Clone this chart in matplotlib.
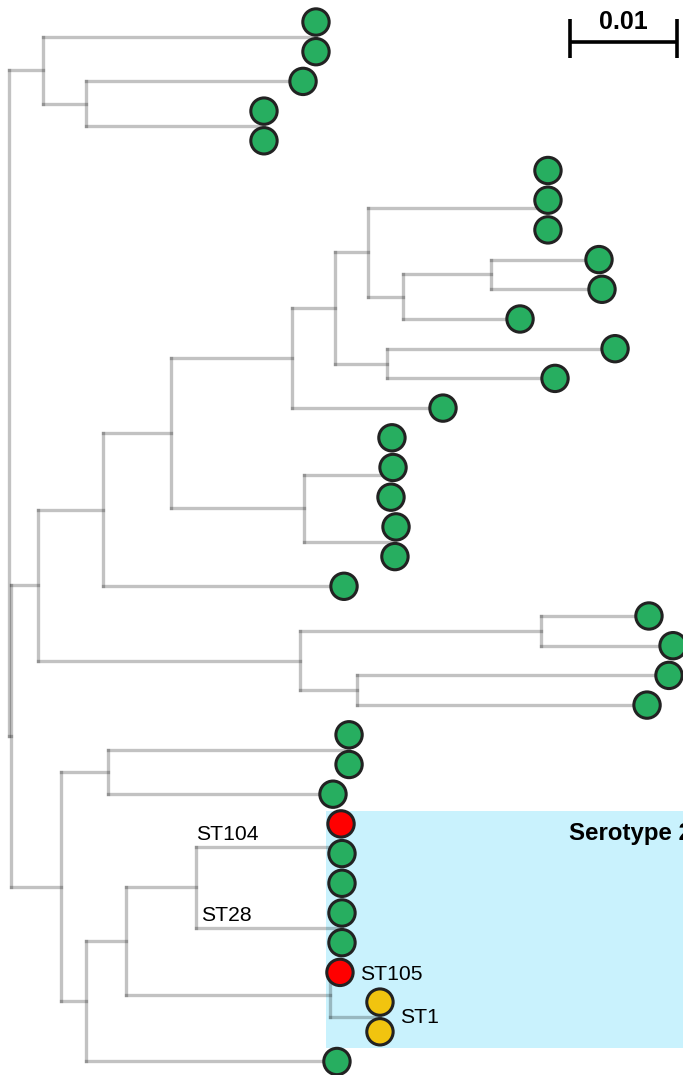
import numpy as np
import matplotlib.pyplot as plt
from matplotlib.collections import LineCollection
from matplotlib.patches import Rectangle

plt.rcParams['font.family'] = ['Liberation Sans', 'DejaVu Sans']

# tree topology: parent of each node (-1 = root) and distance from root (subst./site)
parent = [-1, 0, 1, 1, 3, 3, 0, 6, 7, 8, 9, 10, 11, 12, 12, 14, 15, 15, 14, 11,
          19, 19, 10, 9, 23, 23, 8, 7, 27, 28, 28, 27, 31, 31, 6, 34, 35, 35,
          34, 38, 39, 40, 40, 39, 43, 43, 38]
depth = [0.0, 0.00318, 0.02869, 0.00720, 0.02748, 0.02383, 0.00019, 0.00271,
         0.00879, 0.01514, 0.02645, 0.03047, 0.03355, 0.05037, 0.03682, 0.04505,
         0.05514, 0.05542, 0.04776, 0.03533, 0.05664, 0.05103, 0.04056, 0.02757,
         0.03579, 0.03607, 0.03131, 0.02720, 0.04972, 0.05981, 0.06206, 0.03252,
         0.06168, 0.05963, 0.00486, 0.00925, 0.03178, 0.03028, 0.00720, 0.01093,
         0.01748, 0.03112, 0.03112, 0.03000, 0.03093, 0.03467, 0.03065]
# row where each terminal branch ends
tip_row = {2: 0.5, 4: 2, 5: 3.5, 13: 6.26, 16: 8, 17: 9, 18: 10, 20: 11, 21: 12,
           22: 13, 24: 15.25, 25: 17.5, 26: 19, 29: 20, 30: 21, 32: 22, 33: 23,
           36: 24.5, 37: 26, 41: 27.78, 42: 30.5, 44: 32, 45: 33.5, 46: 35}

# isolates (one circle per row)
iso_row = np.arange(36)
iso_depth = [0.02869, 0.02869, 0.02748, 0.02383, 0.02383, 0.05037, 0.05037, 0.05037,
             0.05514, 0.05542, 0.04776, 0.05664, 0.05103, 0.04056, 0.03579, 0.03589,
             0.03570, 0.03617, 0.03607, 0.03131, 0.05981, 0.06206, 0.06168, 0.05963,
             0.03178, 0.03178, 0.03028, 0.03103, 0.03112, 0.03112, 0.03112, 0.03112,
             0.03093, 0.03467, 0.03467, 0.03065]
iso_group = ['other'] * 36
iso_group[27] = 'red'
iso_group[32] = 'red'
iso_group[33] = 'yellow'
iso_group[34] = 'yellow'
group_colors = {'other': '#27ae60', 'red': '#ff0000', 'yellow': '#f1c40f'}

st_labels = ['ST104', 'ST28', 'ST105', 'ST1']
st_depth = [0.01748, 0.01794, 0.03280, 0.03654]
st_row = [27.54, 30.27, 32.0, 33.45]

# layout: internal nodes sit midway between their outermost children
n = len(parent)
children = [[] for _ in range(n)]
for i, p in enumerate(parent):
    if p >= 0:
        children[p].append(i)
row = np.zeros(n)
for i in range(n - 1, -1, -1):
    if i in tip_row:
        row[i] = tip_row[i]
    else:
        r = [row[c] for c in children[i]]
        row[i] = (min(r) + max(r)) / 2

segs = []
for i in range(n):
    if parent[i] >= 0:
        segs.append([(depth[parent[i]], row[i]), (depth[i], row[i])])
    if children[i]:
        r = [row[c] for c in children[i]]
        segs.append([(depth[i], min(r)), (depth[i], max(r))])

fig = plt.figure(figsize=(6.83, 10.75), dpi=100)
ax = fig.add_axes([0, 0, 1, 1])
x0 = -9 / 10700
ax.set_xlim(x0, x0 + 683 / 10700)
ax.set_ylim(35.455, -0.7407)
ax.axis('off')

# serotype 2 clade
ax.add_patch(Rectangle((0.02963, 26.57), 0.05, 7.98, facecolor='#c9f2fd',
                       edgecolor='none', zorder=0))
ax.text(0.05234, 27.54, 'Serotype 2', fontsize=17.3, fontweight='bold',
        va='baseline', ha='left', zorder=4)

lc = LineCollection(segs, colors=(0, 0, 0, 0.24), linewidths=2.4,
                    capstyle='projecting', zorder=1)
ax.add_collection(lc)

ax.scatter(iso_depth, iso_row, s=360, c=[group_colors[g] for g in iso_group],
           edgecolors='#222222', linewidths=2.2, zorder=3)

for lab, d, r in zip(st_labels, st_depth, st_row):
    ax.text(d, r, lab, fontsize=15.2, ha='left',
            va='baseline' if lab in ('ST104', 'ST28') else 'center_baseline', zorder=4)

# scale bar
sb_x, sb_y = 0.05243, 0.673
ax.plot([sb_x, sb_x + 0.01], [sb_y, sb_y], color='black', lw=2.6, solid_capstyle='butt')
for xx in (sb_x, sb_x + 0.01):
    ax.plot([xx, xx], [-0.10, 1.21], color='black', lw=2.6, solid_capstyle='butt')
ax.text(sb_x + 0.005, 0.236, '0.01', fontsize=18, fontweight='bold',
        ha='center', va='baseline')

fig.savefig('out.png', dpi=100)
